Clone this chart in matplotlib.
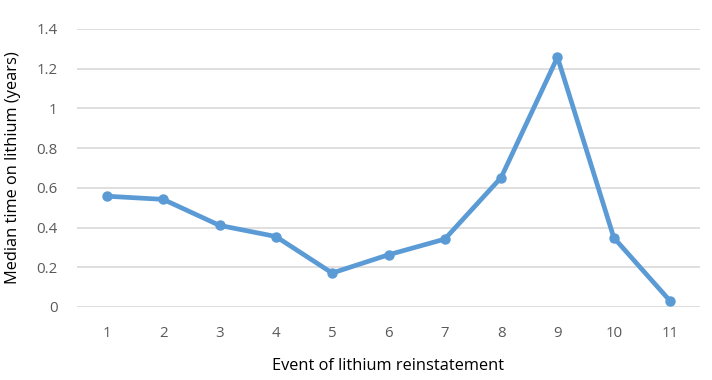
import matplotlib.pyplot as plt
import numpy as np

# Data
events = ["1", "2", "3", "4", "5", "6", "7", "8", "9", "10", "11"]
median_years = [0.558, 0.542, 0.411, 0.355, 0.171, 0.263, 0.342, 0.652, 1.258, 0.349, 0.030]
y_ticks = [0, 0.2, 0.4, 0.6, 0.8, 1.0, 1.2, 1.4]
y_tick_labels = ["0", "0.2", "0.4", "0.6", "0.8", "1", "1.2", "1.4"]

plt.rcParams["font.family"] = ["Open Sans", "DejaVu Sans"]

fig = plt.figure(figsize=(7.12, 3.8), dpi=100)
ax = fig.add_axes([77 / 712, 1 - 307 / 380, (700 - 77) / 712, (307 - 29) / 380])

x = np.arange(1, len(events) + 1)
ax.plot(x, median_years, color="#5b9bd5", linewidth=3.4, marker="o",
        markersize=6.5, solid_joinstyle="round", zorder=3)

ax.set_xlim(0.47, 11.53)
ax.set_ylim(0, 1.4)
ax.set_xticks(x)
ax.set_xticklabels(events)
ax.set_yticks(y_ticks)
ax.set_yticklabels(y_tick_labels)

ax.grid(axis="y", color="#d9d9d9", linewidth=1.2)
ax.set_axisbelow(True)
for s in ax.spines.values():
    s.set_visible(False)
ax.tick_params(axis="both", length=0, labelsize=10.8, labelcolor="#595959")
ax.tick_params(axis="y", pad=14)
ax.tick_params(axis="x", pad=14)

ax.set_xlabel("Event of lithium reinstatement", fontsize=11.8, color="#000000", labelpad=12)
ax.set_ylabel("Median time on lithium (years)", fontsize=11.8, color="#000000", labelpad=11)

fig.savefig("out.png", dpi=100)
